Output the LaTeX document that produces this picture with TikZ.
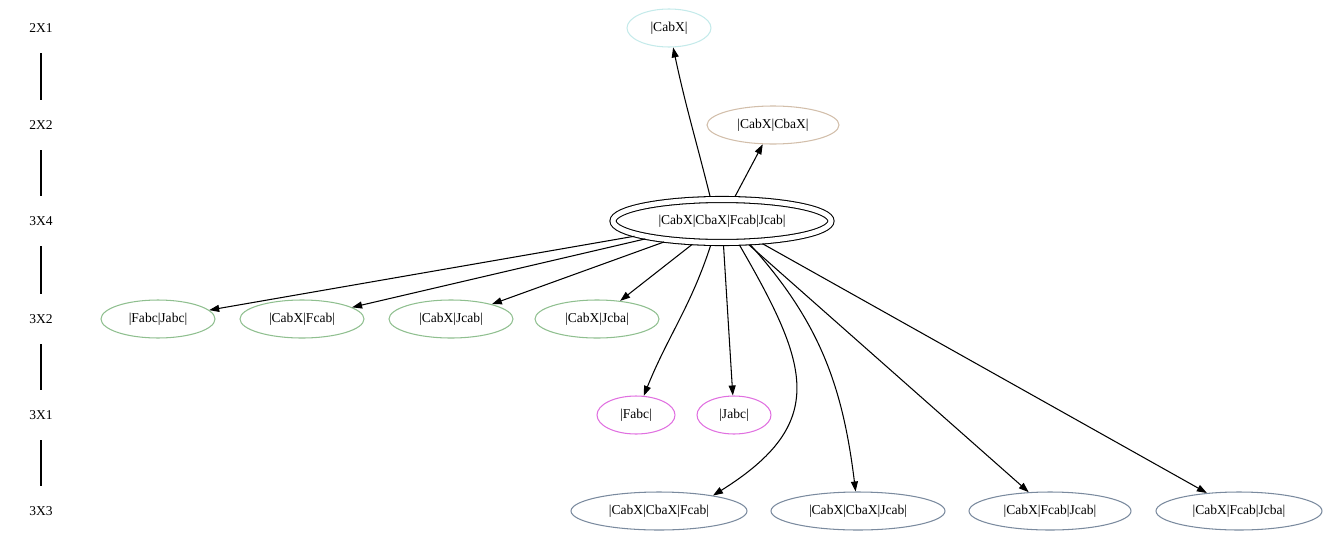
\documentclass[tikz,border=0pt]{standalone}
\usepackage{fontspec}
\setmainfont{Liberation Serif}
\usetikzlibrary{shapes.geometric,arrows.meta}

\definecolor{cyanish}{HTML}{C4EAEA}
\definecolor{tanish}{HTML}{D2BEAA}
\definecolor{greenish}{HTML}{8FBF8F}
\definecolor{orchidish}{HTML}{E070E0}
\definecolor{slateish}{HTML}{7A8A9E}

\begin{document}
\begin{tikzpicture}[x=0.02cm, y=-0.02cm,
    font=\fontsize{7.7}{9}\selectfont,
    state/.style={ellipse, draw, line width=0.6pt, inner sep=0pt, minimum height=0.76cm},
    rank/.style={inner sep=0pt, minimum height=0.5cm},
    edge/.style={line width=0.6pt, -{Triangle[length=0.2cm, width=0.14cm]}}]
            \useasboundingbox (0,0) rectangle (1324,541);

            % Define rank labels
            \node[rank] (r1) at (41,28) {2X1};
            \node[rank] (r2) at (41,125) {2X2};
            \node[rank] (r3) at (41,221) {3X4};
            \node[rank] (r4) at (41,319) {3X2};
            \node[rank] (r5) at (41,415) {3X1};
            \node[rank] (r6) at (41,511) {3X3};
            \draw[line width=0.6pt, shorten <=0.25cm, shorten >=0.25cm] (r1) -- (r2);
            \draw[line width=0.6pt, shorten <=0.25cm, shorten >=0.25cm] (r2) -- (r3);
            \draw[line width=0.6pt, shorten <=0.25cm, shorten >=0.25cm] (r3) -- (r4);
            \draw[line width=0.6pt, shorten <=0.25cm, shorten >=0.25cm] (r4) -- (r5);
            \draw[line width=0.6pt, shorten <=0.25cm, shorten >=0.25cm] (r5) -- (r6);

            % Define vertices
            \node[state, draw=cyanish, minimum width=1.68cm] (C) at (669,28) {|CabX|};
            \node[state, draw=tanish, minimum width=2.64cm] (CC) at (773,125) {|CabX|CbaX|};
            \node[state, double, double distance=0.1cm, outer sep=0.06cm, minimum width=4.36cm, minimum height=0.86cm] (M) at (722,221) {|CabX|CbaX|Fcab|Jcab|};
            \node[state, draw=greenish, minimum width=2.28cm] (FJ) at (158,319) {|Fabc|Jabc|};
            \node[state, draw=greenish, minimum width=2.48cm] (CF) at (302,319) {|CabX|Fcab|};
            \node[state, draw=greenish, minimum width=2.48cm] (CJ) at (451,319) {|CabX|Jcab|};
            \node[state, draw=greenish, minimum width=2.48cm] (CJb) at (597,319) {|CabX|Jcba|};
            \node[state, draw=orchidish, minimum width=1.56cm] (F) at (636,415) {|Fabc|};
            \node[state, draw=orchidish, minimum width=1.48cm] (J) at (734,415) {|Jabc|};
            \node[state, draw=slateish, minimum width=3.52cm] (CCF) at (659,511) {|CabX|CbaX|Fcab|};
            \node[state, draw=slateish, minimum width=3.48cm] (CCJ) at (858,511) {|CabX|CbaX|Jcab|};
            \node[state, draw=slateish, minimum width=3.24cm] (CFJ) at (1050,511) {|CabX|Fcab|Jcab|};
            \node[state, draw=slateish, minimum width=3.32cm] (CFJb) at (1239,511) {|CabX|Fcab|Jcba|};

            % Draw edges with arrows
            \draw[edge] (M.116) to[out=104, in=-78] (C);
            \draw[edge] (M.62) -- (CC);
            \draw[edge] (M) -- (FJ);
            \draw[edge] (M) -- (CF);
            \draw[edge] (M) -- (CJ);
            \draw[edge] (M) -- (CJb);
            \draw[edge] (M.-115) to[out=-108, in=68] (F);
            \draw[edge] (M) -- (J);
            \draw[edge] (M.-54) to[out=-60, in=32, looseness=1.4] (CCF.16);
            \draw[edge] (M.-40) to[out=-48, in=97] (CCJ);
            \draw[edge] (M) -- (CFJ);
            \draw[edge] (M) -- (CFJb);
        \end{tikzpicture}
\end{document}
